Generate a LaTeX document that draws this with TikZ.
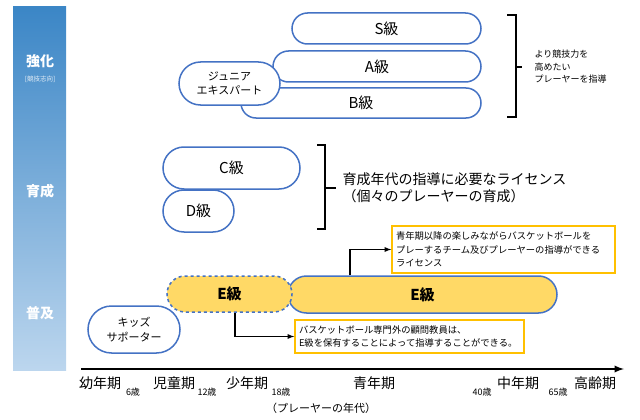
\documentclass[tikz,border=0pt]{standalone}
\usepackage{fontspec}
\setmainfont{Noto Sans CJK JP}
\usetikzlibrary{shapes.misc, arrows}

\definecolor{lineblue}{HTML}{4472C4}
\definecolor{egold}{HTML}{FFD966}
\definecolor{boxgold}{HTML}{FFC000}
\definecolor{bartop}{HTML}{3B86C6}
\definecolor{barbot}{HTML}{BCD6EE}

\newcommand{\fsz}[2]{\fontsize{#1}{#2}\selectfont}

\begin{document}
\begin{tikzpicture}[x=1pt,y=-1pt,>=latex,
    pill/.style={draw=lineblue,line width=1.5pt,fill=white,rounded rectangle,inner sep=0pt,font=\fsz{15}{18}},
    twoline/.style={pill,align=center,font=\fsz{11}{14.5}},
    epill/.style={pill,fill=egold,font=\fsz{15}{18}\bfseries},
    notebox/.style={draw=boxgold,line width=1.5pt,fill=white,inner xsep=4pt,inner ysep=0pt,align=left,font=\fsz{9.3}{13.5}},
    side/.style={text=white,font=\fsz{14}{16}\bfseries},
    age/.style={font=\fsz{14}{16}},
    agesub/.style={font=\fsz{9}{10}},
    brace/.style={line width=1.3pt},
    conn/.style={->,line width=1.3pt}]
    \useasboundingbox (0,0) rectangle (640,420);

    % left band
    \shade [top color=bartop,bottom color=barbot](13,7) rectangle (66,370);
    \node [side](kyoka)at(40,61){強化};
    \node [text=white!85!bartop,font=\fsz{6.5}{7}](kyogi)at(40,79){[競技志向]};
    \node [side](ikusei)at(40,191){育成};
    \node [side](fukyu)at(40,313){普及};

    % top grades
    \node [pill,minimum width=189pt,minimum height=31pt](s)at(386.5,28.5){S級};
    \node [pill,minimum width=208pt,minimum height=31pt](a)at(377,66.5){A級};
    \node [pill,minimum width=240pt,minimum height=30pt](b)at(361,103){B級};
    \node [twoline,minimum width=101pt,minimum height=43pt](jr)at(229.5,83.5){ジュニア\\エキスパート};
    \draw [brace](507,15) -| (516,117) -- (507,117);
    \draw [brace](516,67) -- (522,67);
    \node [anchor=west,align=left,font=\fsz{9}{12.5}](kyogitxt)at(531,67){より競技力を\\高めたい\\プレーヤーを指導};

    % middle grades
    \node [pill,minimum width=137pt,minimum height=42pt](c)at(231.5,168){C級};
    \node [pill,minimum width=71pt,minimum height=42pt](d)at(198.5,211){D級};
    \draw [brace](317,145) -| (325,229) -- (317,229);
    \node [anchor=west,align=left,font=\fsz{14}{17}](ikuseitxt)at(339,188){育成年代の指導に必要なライセンス\\（個々のプレーヤーの育成）};
    \draw [brace](325,188) -- (336,188);

    % E grade
    \node [epill,minimum width=269pt,minimum height=37pt](e2)at(422.5,294.5){E級};
    \node [epill,dashed,minimum width=125pt,minimum height=36pt](e1)at(229.5,294){E級};
    \node [twoline,minimum width=92pt,minimum height=47pt](kids)at(134,329.5){キッズ\\サポーター};
    \node [notebox,text width=215pt,minimum height=47pt](nb2)at(503.5,249.5){青年期以降の楽しみながらバスケットボールを\\プレーするチーム及びプレーヤーの指導ができる\\ライセンス};
    \node [notebox,text width=221pt,minimum height=33pt](nb1)at(409.5,336.5){バスケットボール専門外の顧問教員は、\\E級を保有することによって指導することができる。};
    \draw [conn]([xshift=5.5pt]e1.south) |- (nb1.west);
    \draw [conn]([xshift=-72.5pt]e2.north) |- (nb2.west);

    % age axis
    \coordinate (ax0)at(81,369);
    \coordinate (ax1)at(624,369);
    \draw [->,line width=2.2pt](ax0) -- (ax1);
    \node [age](yonen)at(100,383){幼年期};
    \node [agesub](a6)at(133,392){6歳};
    \node [age](jido)at(174,383){児童期};
    \node [agesub](a12)at(207,392){12歳};
    \node [age](shonen)at(247,383){少年期};
    \node [agesub](a18)at(281,392){18歳};
    \node [age](seinen)at(374,383){青年期};
    \node [agesub](a40)at(482,392){40歳};
    \node [age](chunen)at(518,383){中年期};
    \node [agesub](a65)at(558,392){65歳};
    \node [age](koreiki)at(595,383){高齢期};
    \node [font=\fsz{11}{13}](nendai)at(321,408){（プレーヤーの年代）};
\end{tikzpicture}
\end{document}
